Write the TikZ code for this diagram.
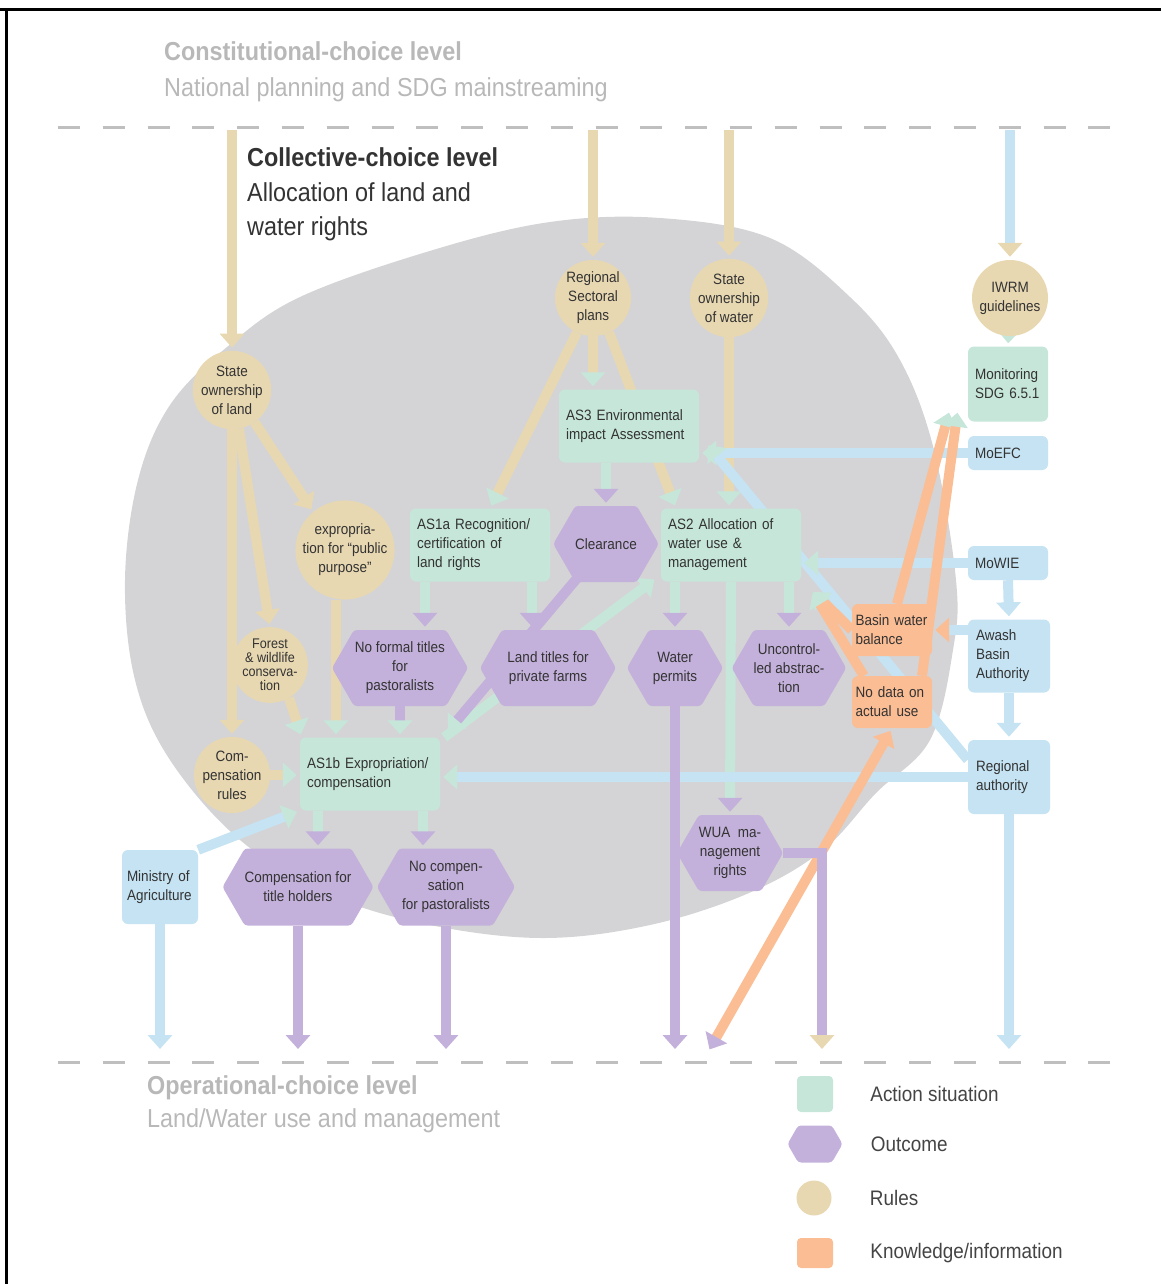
\documentclass[tikz,border=0pt]{standalone}
\usepackage{fontspec}
\setmainfont[FakeStretch=0.9]{Liberation Sans}
\usetikzlibrary{arrows.meta,positioning,shapes.symbols,calc}
\definecolor{ruletan}{HTML}{E8D8B2}
\definecolor{asgreen}{HTML}{C6E6D9}
\definecolor{actblue}{HTML}{C5E3F2}
\definecolor{outpurple}{HTML}{C3B1DB}
\definecolor{infoorange}{HTML}{FBBD94}
\definecolor{blobgray}{HTML}{D4D4D6}
\definecolor{dashgray}{HTML}{BFBFBF}
\definecolor{headgray}{HTML}{B8B8B8}
\definecolor{ink}{HTML}{333333}
\definecolor{keyink}{HTML}{444444}
\pgfdeclarelayer{back}
\pgfdeclarelayer{links}
\pgfsetlayers{back,links,main}

\begin{document}
\begin{tikzpicture}[x=1pt,y=-1pt,
  every node/.style={font=\fontsize{15}{19}\selectfont,text=ink,align=center,inner sep=0pt},
  headtxt/.style={anchor=base west,font=\fontsize{26}{30}\selectfont,text=headgray},
  keytext/.style={font=\fontsize{21}{25}\selectfont,text=keyink},
  rulebox/.style={circle,fill=ruletan,minimum size=76pt},
  asbox/.style={rectangle,rounded corners=6pt,fill=asgreen,minimum width=140pt,minimum height=73pt,text width=126pt,align=left},
  actbox/.style={rectangle,rounded corners=6pt,fill=actblue,minimum width=80pt,minimum height=34pt,text width=66pt,align=left},
  infobox/.style={rectangle,rounded corners=6pt,fill=infoorange,minimum width=80pt,minimum height=52pt,text width=73pt,align=left},
  outbox/.style={signal,signal to=east and west,signal pointer angle=120,rounded corners=3pt,fill=outpurple,minimum width=136pt,minimum height=76pt},
  keybox/.style={rectangle,rounded corners=4pt,minimum size=36pt},
  link/.style 2 args={line width=10pt,draw=#1,-{Triangle[width=24pt,length=14pt,color=#2]},shorten >=3pt},
  levelline/.style={dashgray,line width=3pt,dash pattern=on 22pt off 22.8pt}]
\useasboundingbox (0,0) rectangle (1161,1284);

% frame
\draw[line width=3pt] (0,10) -- (1161,10);
\draw[line width=3pt] (6,10) -- (6,1284);

% levels
\draw[levelline] (58,128) -- (1112,128);
\draw[levelline] (58,1062) -- (1118,1062);
\coordinate (cline) at (0,130);
\coordinate (oline) at (0,1052);
\coordinate (ndend) at (708,1052);
\coordinate (wuaend) at (822,1052);

\node[headtxt,font=\fontsize{26}{30}\selectfont\bfseries] (consttitle) at (164,61) {Constitutional-choice level};
\node[headtxt] (constsub) at (164,97) {National planning and SDG mainstreaming};
\node[headtxt,font=\fontsize{26}{30}\selectfont\bfseries,text=ink] (colltitle) at (247,167) {Collective-choice level};
\node[headtxt,text=ink] (collsub) at (247,201) {Allocation of land and};
\node[headtxt,text=ink] (collsubb) at (247,235) {water rights};
\node[headtxt,font=\fontsize{26}{30}\selectfont\bfseries] (optitle) at (147,1094) {Operational-choice level};
\node[headtxt] (opsub) at (147,1127) {Land/Water use and management};

% collective-choice arena
\begin{pgfonlayer}{back}
\fill[blobgray] plot[smooth cycle,tension=0.6] coordinates {(125,580) (138,480) (170,405) (227,347) (300,297) (433,250) (550,222) (660,218) (770,238) (850,297) (900,360) (934,450) (956,580) (953,650) (930,740) (876,793) (823,850) (749,893) (650,925) (543,938) (430,925) (330,895) (240,840) (170,760) (135,680)};
\end{pgfonlayer}

% rules
\node[rulebox] (sland) at (232,390) {State\\ownership\\of land};
\node[rulebox] (rplan) at (593,298) {Regional\\Sectoral\\plans};
\node[rulebox,minimum size=72pt] (swater) at (729,298) {State\\ownership\\of water};
\node[rulebox] (iwrm) at (1010,298) {IWRM\\guidelines};
\node[rulebox,minimum size=90pt] (expro) at (345,550) {expropria-\\tion for “public\\purpose”};
\node[rulebox,minimum size=70pt,font=\fontsize{14}{14}\selectfont] (forest) at (270,665) {Forest\\\& wildlife\\conserva-\\tion};
\node[rulebox,minimum size=74pt] (crules) at (232,775) {Com-\\pensation\\rules};

% action situations
\node[asbox] (as3) at (629,426) {AS3 Environmental\\impact Assessment};
\node[asbox] (as1a) at (480,545) {AS1a Recognition/\\certification of\\land rights};
\node[asbox] (as2) at (731,545) {AS2 Allocation of\\water use \&\\management};
\node[asbox] (as1b) at (370,774) {AS1b Expropriation/\\compensation};
\node[asbox,minimum width=80pt,minimum height=75pt,text width=66pt] (monit) at (1008,384) {Monitoring\\SDG 6.5.1};

% actors
\node[actbox] (moefc) at (1008,453) {MoEFC};
\node[actbox] (mowie) at (1008,563) {MoWIE};
\node[actbox,minimum width=82pt,minimum height=73pt] (awash) at (1009,656) {Awash\\Basin\\Authority};
\node[actbox,minimum width=82pt,minimum height=74pt] (rauth) at (1009,777) {Regional\\authority};
\node[actbox,minimum width=76pt,minimum height=74pt] (moa) at (160,887) {Ministry of\\Agriculture};

% knowledge
\node[infobox] (bwb) at (892,630) {Basin water\\balance};
\node[infobox] (nodata) at (892,702) {No data on\\actual use};

% outcomes
\node[outbox,minimum width=80pt] (clear) at (606,544) {Clearance};
\node[outbox] (noform) at (400,668) {No formal titles\\for\\pastoralists};
\node[outbox] (ltitle) at (548,668) {Land titles for\\private farms};
\node[outbox,minimum width=96pt] (wperm) at (675,668) {Water\\permits};
\node[outbox,minimum width=96pt] (uncon) at (789,668) {Uncontrol-\\led abstrac-\\tion};
\node[outbox,minimum width=96pt] (wua) at (730,853) {WUA~~ma-\\nagement\\rights};
\node[outbox,minimum width=138pt,minimum height=77pt] (comptit) at (298,887) {Compensation for\\title holders};
\node[outbox,minimum width=138pt,minimum height=77pt] (nocomp) at (446,887) {No compen-\\sation\\for pastoralists};

\begin{pgfonlayer}{links}
% from the constitutional level
\draw[link={ruletan}{ruletan}] (sland.north |- cline) -- (sland.north);
\draw[link={ruletan}{ruletan}] (rplan.north |- cline) -- (rplan.north);
\draw[link={ruletan}{ruletan}] (swater.north |- cline) -- (swater.north);
\draw[link={actblue}{ruletan}] (iwrm.north |- cline) -- (iwrm.north);
\draw[link={ruletan}{asgreen}] (iwrm.center) -- (monit.north);
% rules
\draw[link={ruletan}{ruletan}] (sland.south) -- (sland.south |- crules.north);
\draw[link={ruletan}{ruletan}] (sland.-80) -- (forest.north);
\draw[link={ruletan}{ruletan}] (sland.-55) -- (expro.130);
\draw[link={ruletan}{asgreen}] ([xshift=-9pt]expro.south) -- ([xshift=-9pt]expro.south |- as1b.north);
\draw[link={ruletan}{asgreen}] (forest.-60) -- ($(as1b.north west)+(2,0)$);
\draw[link={ruletan}{asgreen}] (crules.east) -- (crules.east -| as1b.west);
\draw[link={ruletan}{asgreen}] (rplan.south) -- (rplan.south |- as3.north);
\draw[link={ruletan}{asgreen}] (rplan.-115) -- ($(as1a.north)+(10,0)$);
\draw[link={ruletan}{asgreen}] (rplan.-65) -- ($(as2.north)+(-55,0)$);
\draw[link={ruletan}{asgreen}] (swater.south) -- (swater.south |- as2.north);
% action situations to outcomes
\draw[link={asgreen}{outpurple}] (clear.north |- as3.south) -- (clear.north);
\draw[link={asgreen}{outpurple}] ([xshift=-55pt]as1a.south) -- ([xshift=-55pt]as1a.south |- noform.north);
\draw[link={asgreen}{outpurple}] ([xshift=52pt]as1a.south) -- ([xshift=52pt]as1a.south |- ltitle.north);
\draw[link={asgreen}{outpurple}] (wperm.north |- as2.south) -- (wperm.north);
\draw[link={asgreen}{outpurple}] (uncon.north |- as2.south) -- (uncon.north);
\draw[link={asgreen}{outpurple}] (as2.south) -- (wua.north);
\draw[link={asgreen}{outpurple}] ([xshift=-52pt]as1b.south) -- ([xshift=-52pt]as1b.south |- comptit.north);
\draw[link={asgreen}{outpurple}] ([xshift=53pt]as1b.south) -- ([xshift=53pt]as1b.south |- nocomp.north);
\draw[link={asgreen}{asgreen}] ($(as1b.north east)+(4,0)$) -- ($(as2.south west)+(-4,-4)$);
% outcomes back
\draw[link={outpurple}{asgreen}] (noform.south) -- (noform.south |- as1b.north);
\draw[link={outpurple}{asgreen}] (clear.center) -- ($(as1b.north east)+(6,-4)$);
% actors
\draw[link={actblue}{asgreen}] (moefc.west) -- (moefc.west -| as3.east);
\draw[link={actblue}{asgreen}] ($(rauth.north west)+(0,20)$) -- ($(as3.east)+(7,17)$);
\draw[link={actblue}{asgreen}] (mowie.west) -- (mowie.west -| as2.east);
\draw[link={actblue}{actblue}] (mowie.south) -- (awash.north);
\draw[link={actblue}{actblue}] (awash.south) -- (rauth.north);
\draw[link={actblue}{infoorange}] (bwb.east -| awash.west) -- (bwb.east);
\draw[link={actblue}{asgreen}] (rauth.west) -- (rauth.west -| as1b.east);
\draw[link={actblue}{asgreen}] (moa.north east) -- (as1b.south west);
% knowledge
\draw[link={infoorange}{asgreen}] ($(bwb.north)+(5,0)$) -- ($(monit.south west)+(-18,-12)$);
\draw[link={infoorange}{asgreen}] ($(nodata.north)+(30,0)$) -- ($(monit.south west)+(-10,-12)$);
\draw[link={infoorange}{asgreen}] (bwb.west) -- ($(as2.south east)+(10,8)$);
\draw[link={infoorange}{asgreen}] ($(nodata.north west)+(12,0)$) -- ($(as2.south east)+(10,8)$);
\draw[link={infoorange}{outpurple},{Triangle[width=24pt,length=14pt,color=infoorange]}-{Triangle[width=24pt,length=14pt,color=outpurple]},shorten <=3pt] (nodata.south) -- (ndend);
% to the operational level
\draw[link={actblue}{actblue}] (moa.south) -- (moa.south |- oline);
\draw[link={outpurple}{outpurple}] (comptit.south) -- (comptit.south |- oline);
\draw[link={outpurple}{outpurple}] (nocomp.south) -- (nocomp.south |- oline);
\draw[link={outpurple}{outpurple}] (wperm.south) -- (wperm.south |- oline);
\draw[link={outpurple}{ruletan}] (wua.east) -| (wuaend);
\draw[link={actblue}{actblue}] (rauth.south) -- (rauth.south |- oline);
\end{pgfonlayer}

% key
\node[keybox,fill=asgreen] (keyas) at (815,1094) {};
\node[outbox,minimum width=55pt,minimum height=37pt] (keyout) at (815,1144) {};
\node[rulebox,minimum size=35pt] (keyrule) at (814,1198) {};
\node[keybox,fill=infoorange,minimum height=30pt] (keyinfo) at (815,1253) {};
\node[keytext,right=37pt of keyas] (keyastxt) {Action situation};
\node[keytext,right=28pt of keyout] (keyouttxt) {Outcome};
\node[keytext,right=38pt of keyrule] (keyruletxt) {Rules};
\node[keytext,right=37pt of keyinfo] (keyinfotxt) {Knowledge/information};
\end{tikzpicture}
\end{document}
